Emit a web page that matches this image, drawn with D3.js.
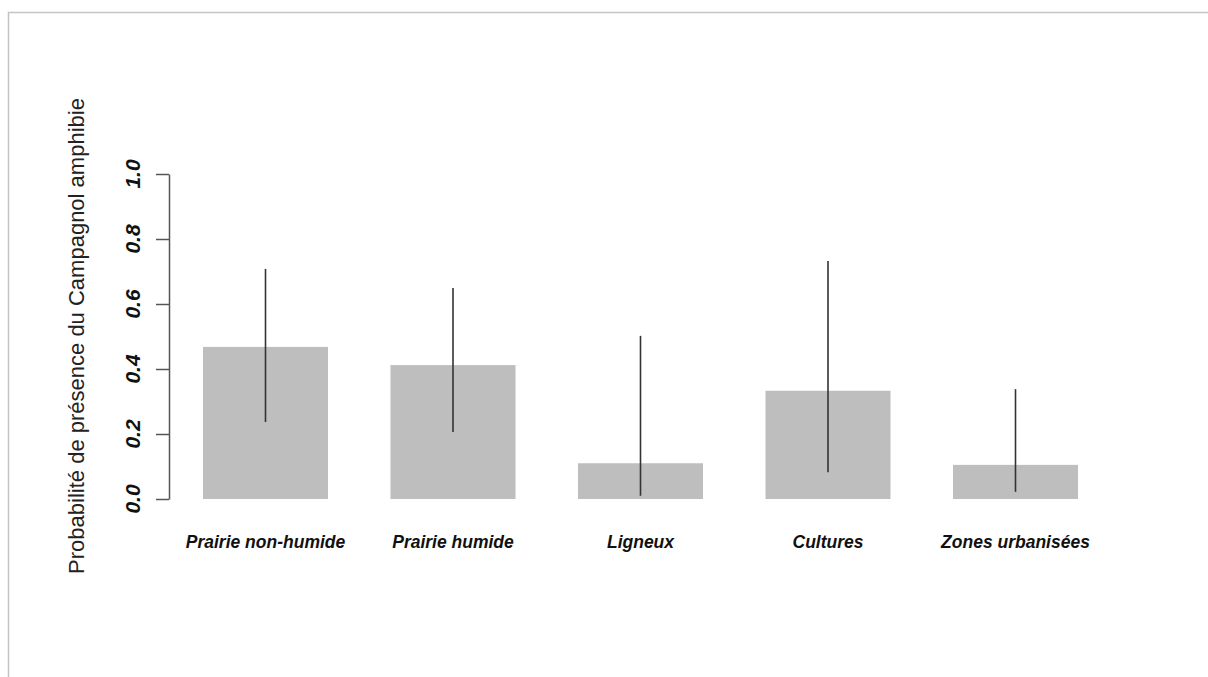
<!DOCTYPE html>
<html>
<head>
<meta charset="utf-8">
<script src="https://cdn.jsdelivr.net/npm/d3@7"></script>
<style>
  html, body { margin: 0; padding: 0; background: #fff; }
  svg { display: block; }
</style>
</head>
<body>
<svg id="chart" width="1208" height="677"></svg>
<script>
// Land-cover categories and estimated presence probability with interval bounds
const categories = ["Prairie non-humide", "Prairie humide", "Ligneux", "Cultures", "Zones urbanisées"];
const probability = [0.468, 0.412, 0.110, 0.333, 0.105];
const lowerBound = [0.237, 0.206, 0.010, 0.082, 0.022];
const upperBound = [0.708, 0.649, 0.502, 0.732, 0.338];
const yTicks = [0, 0.2, 0.4, 0.6, 0.8, 1.0];
const yTitle = "Probabilité de présence du Campagnol amphibie";

const svg = d3.select("#chart");
const font = "'Liberation Sans', Arial, Helvetica, sans-serif";

// Outer frame (top and left edges)
svg.append("path")
  .attr("d", "M8.5,677 V12.5 H1208")
  .attr("fill", "none")
  .attr("stroke", "#c4c4c4")
  .attr("stroke-width", 1.5);

const x = d3.scaleBand()
  .domain(categories)
  .range([203, 1078])
  .paddingInner(1 / 3)
  .paddingOuter(0);

const y = d3.scaleLinear().domain([0, 1]).range([499, 174]);

const rows = categories.map((c, i) => ({
  cat: c, p: probability[i], lo: lowerBound[i], hi: upperBound[i]
}));

// Bars
svg.append("g").selectAll("rect")
  .data(rows)
  .join("rect")
  .attr("x", d => x(d.cat))
  .attr("y", d => y(d.p))
  .attr("width", x.bandwidth())
  .attr("height", d => y(0) - y(d.p))
  .attr("fill", "#bebebe");

// Interval lines
svg.append("g").selectAll("line")
  .data(rows)
  .join("line")
  .attr("x1", d => x(d.cat) + x.bandwidth() / 2)
  .attr("x2", d => x(d.cat) + x.bandwidth() / 2)
  .attr("y1", d => y(d.lo))
  .attr("y2", d => y(d.hi))
  .attr("stroke", "#333")
  .attr("stroke-width", 1.6);

// Y axis
const yAxis = svg.append("g")
  .attr("transform", "translate(169,0)")
  .call(d3.axisLeft(y).tickValues(yTicks).tickSize(13).tickSizeOuter(0).tickFormat(d3.format(".1f")));
yAxis.select(".domain").attr("stroke", "#555").attr("stroke-width", 1.5);
yAxis.selectAll(".tick line").attr("stroke", "#555").attr("stroke-width", 1.5);
yAxis.selectAll(".tick text").remove();

// Rotated tick labels
svg.append("g").selectAll("text")
  .data(yTicks)
  .join("text")
  .attr("transform", d => `translate(140,${y(d)}) rotate(-90)`)
  .attr("text-anchor", "middle")
  .attr("font-family", font)
  .attr("font-weight", "bold")
  .attr("font-style", "italic")
  .attr("font-size", 21)
  .attr("fill", "#111")
  .text(d3.format(".1f"));

// Category labels
svg.append("g").selectAll("text")
  .data(categories)
  .join("text")
  .attr("x", d => x(d) + x.bandwidth() / 2)
  .attr("y", 548)
  .attr("text-anchor", "middle")
  .attr("font-family", font)
  .attr("font-weight", "bold")
  .attr("font-style", "italic")
  .attr("font-size", 17.5)
  .attr("fill", "#111")
  .text(d => d);

// Y title
svg.append("text")
  .attr("transform", "translate(84,336) rotate(-90)")
  .attr("text-anchor", "middle")
  .attr("font-family", font)
  .attr("font-size", 22)
  .attr("fill", "#222")
  .text(yTitle);
</script>
</body>
</html>
